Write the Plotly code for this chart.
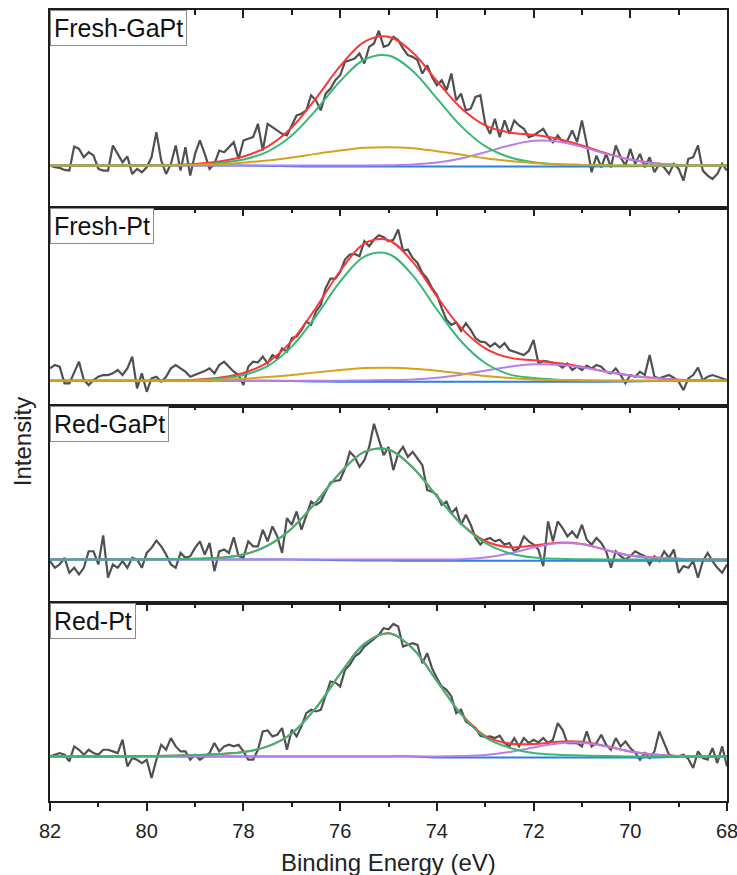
import numpy as np
import plotly.graph_objects as go

# ---------------- data ----------------
ENERGY_RANGE = [82, 68]
PANEL_LABELS = ["Fresh-GaPt", "Fresh-Pt", "Red-GaPt", "Red-Pt"]
X_TITLE = "Binding Energy (eV)"
Y_TITLE = "Intensity"

# raw spectra (counts, arbitrary units, baseline = 0), 82 eV -> 68 eV in 0.1 eV steps
DATA_FRESH_GAPT = [0, -5, -7, -13, -15, 57, 50, 25, 40, 30, -10, -15, -15, 60, 35, 10, 27, -25, -10, -20,
                   -5, 25, 100, 15, -25, 5, 60, -15, 55, -30, 35, 75, 35, -10, 5, 45, 40, 55, 70, 20,
                   75, 80, 85, 125, 45, 125, 115, 105, 95, 90, 120, 150, 155, 165, 210, 195, 165, 215, 230, 255,
                   270, 310, 315, 320, 335, 305, 355, 365, 403, 355, 360, 385, 375, 350, 330, 325, 315, 275, 300, 265,
                   240, 255, 225, 275, 195, 215, 165, 170, 205, 210, 125, 95, 140, 85, 135, 95, 135, 120, 110, 85,
                   90, 100, 110, 85, 70, 90, 70, 75, 105, 70, 135, 65, -20, 30, -5, 35, -5, 60, 25, 0,
                   50, 5, 35, -5, 25, -20, 5, -5, -25, 5, -10, -45, 20, 25, 60, -15, -30, -40, -25, 5, -15]
DATA_FRESH_PT = [37, 47, 42, -8, -8, 22, 57, 2, -13, 2, 12, 17, 17, 22, 32, 17, 37, 72, -23, 22,
                 -33, 7, 12, -3, 12, 37, 47, 37, 27, 12, 17, 22, 29, 37, 22, 47, 57, 42, 27, 17,
                 -13, 42, 57, 55, 72, 52, 77, 67, 97, 87, 127, 132, 152, 177, 167, 207, 227, 277, 305, 305,
                 325, 362, 377, 379, 372, 417, 402, 422, 435, 429, 417, 421, 452, 389, 392, 367, 352, 322, 305, 277,
                 257, 217, 182, 167, 175, 149, 172, 152, 127, 117, 115, 102, 112, 99, 112, 92, 87, 81, 77, 89,
                 122, 52, 59, 57, 52, 49, 39, 51, 32, 42, 32, 45, 37, 47, 42, 27, 22, 37, 17, -8,
                 17, 12, 27, 17, 77, 12, 7, 12, 17, 9, -3, -28, 7, 17, 39, 2, 12, 17, 12, 7, 2]
DATA_RED_GAPT = [-5, -25, -15, 5, -40, -25, -45, -25, 25, 25, -15, 73, -55, -15, -25, -5, -25, 5, 0, -25,
                 20, 35, 57, 40, 15, -15, -25, 20, 5, 10, 35, 55, 15, 50, -35, 25, 30, 20, 67, 10,
                 5, 55, 40, 40, 90, 55, 100, 70, 20, 125, 105, 145, 90, 130, 175, 165, 175, 205, 233, 237,
                 240, 275, 325, 310, 280, 300, 340, 410, 365, 315, 340, 270, 320, 340, 310, 325, 305, 285, 210, 205,
                 195, 165, 175, 140, 155, 105, 135, 105, 65, 45, 60, 65, 55, 60, 45, 50, 25, 35, 70, 55,
                 45, 30, -20, 115, 55, 115, 95, 70, 85, 65, 105, 60, 45, 65, 50, 25, -25, 25, 10, 0,
                 10, 25, 17, 10, -15, 10, -5, 25, 5, 30, -40, -20, -25, -5, -55, -5, 20, -5, -25, -40, -15]
DATA_RED_PT = [0, 5, 10, 5, -15, 30, 20, 5, 20, 10, 5, 20, 20, 15, 10, 50, -30, -5, -10, -20,
               -10, -65, -10, 35, 20, 55, 30, 15, 15, -10, 5, -10, 0, 10, 40, 15, 30, 35, 30, 35,
               15, -10, -10, 20, 75, 78, 60, 65, 85, 20, 80, 60, 90, 130, 140, 135, 140, 180, 225, 222,
               210, 260, 275, 300, 310, 330, 342, 355, 365, 385, 382, 398, 390, 330, 335, 340, 335, 280, 310, 265,
               235, 210, 200, 180, 130, 140, 105, 95, 85, 62, 58, 60, 55, 62, 40, 30, 55, 30, 55, 40,
               50, 42, 55, 40, 50, 100, 80, 40, 40, 40, 30, 75, 30, 40, 65, 35, 20, 55, 30, 45,
               25, 12, -10, 10, -5, 15, 75, 40, 5, 0, 0, 5, -8, -35, 15, -5, -10, 25, -20, 30, -30]

# fitted components sampled every 0.5 eV (82 -> 68)
FIT_ENERGY = [82, 81.5, 81, 80.5, 80, 79.5, 79, 78.5, 78, 77.5, 77, 76.5, 76, 75.5, 75,
              74.5, 74, 73.5, 73, 72.5, 72, 71.5, 71, 70.5, 70, 69.5, 69, 68.5, 68]

GREEN_FRESH_GAPT = [0, 0, 0, 0, 1, 1, 3, 8, 18, 42, 90, 166, 252, 317, 329, 283, 201, 118, 58, 25, 10, 4, 2, 1, 0, 0, 0, 0, 0]
ORANGE_FRESH_GAPT = [0, 0, 0, 0, 0, 1, 2, 4, 9, 15, 24, 35, 45, 53, 55, 52, 43, 33, 22, 14, 8, 4, 2, 1, 0, 0, 0, 0, 0]
PURPLE_FRESH_GAPT = [0, 0, 0, 0, 0, 0, 0, 0, 0, 0, 0, 0, 0, 0, 1, 3, 9, 21, 40, 60, 74, 72, 56, 35, 18, 7, 2, 1, 0]
BLUE_FRESH_GAPT = [0, 0, 0, 0, 0, 0, 0, 0, 0, -1, -2, -3, -3, -3, -3, -3, -3, -3, -3, -3, -3, -3, -3, -2, -2, -1, -1, 0, 0]

GREEN_FRESH_PT = [0, 0, 0, 0, 0, 1, 2, 6, 17, 44, 102, 193, 296, 371, 379, 315, 213, 118, 53, 19, 8, 3, 1, 0, 0, 0, 0, 0, 0]
ORANGE_FRESH_PT = [0, 0, 0, 0, 0, 0, 1, 3, 6, 11, 17, 25, 32, 38, 39, 36, 30, 22, 14, 8, 4, 2, 1, 0, 0, 0, 0, 0, 0]
PURPLE_FRESH_PT = [0, 0, 0, 0, 0, 0, 0, 0, 0, 0, 0, 0, 0, 1, 2, 4, 9, 18, 30, 42, 49, 48, 40, 27, 16, 8, 3, 1, 0]
BLUE_FRESH_PT = [0, 0, 0, 0, 0, 0, 0, 0, 0, 0, -1, -2, -3, -3, -3, -3, -3, -3, -3, -3, -3, -3, -3, -3, -2, -1, -1, 0, 0]

GREEN_RED_GAPT = [0, 0, 0, 0, 0, 1, 2, 5, 15, 42, 94, 173, 262, 325, 332, 278, 191, 108, 50, 19, 6, 2, 1, 0, 0, 0, 0, 0, 0]
ORANGE_RED_GAPT = [0] * 29
PURPLE_RED_GAPT = [0, 0, 0, 0, 0, 0, 0, 0, 0, 0, 0, 0, 0, 0, 0, 0, 0, 1, 6, 18, 36, 49, 46, 29, 12, 6, 2, 0, 0]
BLUE_RED_GAPT = [0, 0, 0, 0, 0, 0, 0, 0, 0, 0, 0, -1, -2, -3, -3, -4, -4, -4, -4, -4, -4, -4, -4, -4, -4, -4, -4, -4, -4]

GREEN_RED_PT = [0, 0, 0, 0, 1, 2, 4, 7, 13, 30, 69, 146, 248, 338, 370, 324, 227, 127, 57, 26, 10, 5, 3, 1, 0, 0, 0, 0, 0]
ORANGE_RED_PT = [0] * 29
PURPLE_RED_PT = [0, 0, 0, 0, 0, 0, 0, 0, 0, 0, 0, 0, 0, 0, 0, 0, 0, 1, 4, 13, 27, 39, 41, 30, 15, 6, 1, 0, 0]
BLUE_RED_PT = [0, 0, 0, 0, 0, 0, 0, 0, 0, 0, 0, 0, 0, 0, 0, 0, -3, -3, -3, -3, -3, -3, -3, -3, -3, -3, -1, 0, 0]

Y_RANGES = [[-126, 465], [-74, 517], [-132, 465], [-134, 460]]

PANELS = [
    (DATA_FRESH_GAPT, GREEN_FRESH_GAPT, ORANGE_FRESH_GAPT, PURPLE_FRESH_GAPT, BLUE_FRESH_GAPT, True),
    (DATA_FRESH_PT, GREEN_FRESH_PT, ORANGE_FRESH_PT, PURPLE_FRESH_PT, BLUE_FRESH_PT, True),
    (DATA_RED_GAPT, GREEN_RED_GAPT, ORANGE_RED_GAPT, PURPLE_RED_GAPT, BLUE_RED_GAPT, False),
    (DATA_RED_PT, GREEN_RED_PT, ORANGE_RED_PT, PURPLE_RED_PT, BLUE_RED_PT, False),
]

# ---------------- styles ----------------
C_DATA = "#505050"
C_RED = "#ff3535"
C_GREEN = "#37b876"
C_ORANGE = "#d6a21a"
C_PURPLE = "#b57ff0"
C_BLUE = "#2d7fe0"
AX_COLOR = "#1e1e1e"
FONT = "Liberation Sans, Arial, sans-serif"

FIG_H = 875
PLOT_TOP, PLOT_BOTTOM = 10, 801

fig = go.Figure()
domains = [[0.75, 1.0], [0.5, 0.75], [0.25, 0.5], [0.0, 0.25]]

for i, (data, green, orange, purple, blue, has_orange) in enumerate(PANELS, start=1):
    xa, ya = f"x{i}", f"y{i}"
    e_data = np.linspace(ENERGY_RANGE[0], ENERGY_RANGE[1], len(data))
    g = np.array(green, float)
    o = np.array(orange, float)
    p = np.array(purple, float)
    envelope = g + o + p
    common = dict(xaxis=xa, yaxis=ya, showlegend=False, hoverinfo="skip", mode="lines")
    fig.add_trace(go.Scatter(x=e_data, y=data, line=dict(color=C_DATA, width=2.2), **common))
    fig.add_trace(go.Scatter(x=FIT_ENERGY, y=envelope, line=dict(color=C_RED, width=2, shape="spline"), **common))
    fig.add_trace(go.Scatter(x=FIT_ENERGY, y=blue, line=dict(color=C_BLUE, width=2, shape="spline"), **common))
    fig.add_trace(go.Scatter(x=FIT_ENERGY, y=purple, line=dict(color=C_PURPLE, width=2, shape="spline"), **common))
    fig.add_trace(go.Scatter(x=FIT_ENERGY, y=green, line=dict(color=C_GREEN, width=2, shape="spline"), **common))
    if has_orange:
        fig.add_trace(go.Scatter(x=FIT_ENERGY, y=orange, line=dict(color=C_ORANGE, width=2, shape="spline"), **common))

    fig.update_layout(**{
        f"xaxis{i}": dict(domain=[0, 1], anchor=ya, range=ENERGY_RANGE, side="top", automargin=False,
                          showline=True, linecolor=AX_COLOR, linewidth=1.6, mirror=True,
                          ticks="inside", ticklen=8, tickwidth=1.5, tickcolor=AX_COLOR,
                          tick0=0, dtick=2, showticklabels=False, showgrid=False, zeroline=False,
                          minor=dict(dtick=1, ticks="inside", ticklen=5, tickwidth=1.5,
                                     tickcolor=AX_COLOR, showgrid=False)),
        f"yaxis{i}": dict(domain=domains[i - 1], anchor=xa, range=Y_RANGES[i - 1], automargin=False,
                          showline=True, linecolor=AX_COLOR, linewidth=1.6, mirror=True,
                          ticks="", showticklabels=False, showgrid=False, zeroline=False),
    })
    fig.add_annotation(text=PANEL_LABELS[i - 1], xref="paper", yref="paper", x=0, y=domains[i - 1][1],
                       xanchor="left", yanchor="top", showarrow=False,
                       font=dict(family=FONT, size=25, color="#111"),
                       bgcolor="white", bordercolor="#8c8c8c", borderwidth=1, borderpad=3)

# bottom labelled axis of the last panel
fig.add_trace(go.Scatter(x=ENERGY_RANGE, y=[None, None], xaxis="x5", yaxis="y4",
                         showlegend=False, hoverinfo="skip", mode="lines"))
fig.update_layout(xaxis5=dict(overlaying="x4", anchor="y4", side="bottom", range=ENERGY_RANGE,
                              automargin=False, ticklabeloverflow="allow",
                              showline=False, ticks="outside", ticklen=9, tickwidth=1.5, tickcolor=AX_COLOR,
                              tick0=0, dtick=2, showgrid=False, zeroline=False,
                              tickfont=dict(family=FONT, size=20, color="#222"), ticklabelstandoff=3,
                              minor=dict(dtick=1, ticks="outside", ticklen=5, tickwidth=1.5,
                                         tickcolor=AX_COLOR, showgrid=False)))

plot_h = PLOT_BOTTOM - PLOT_TOP
fig.add_annotation(text=X_TITLE, xref="paper", yref="paper", x=0.5, y=(PLOT_BOTTOM - 862) / plot_h,
                   xanchor="center", yanchor="middle", showarrow=False,
                   font=dict(family=FONT, size=24, color="#222"))
fig.add_annotation(text=Y_TITLE, xref="paper", yref="paper", x=-0.041, y=(PLOT_BOTTOM - 442) / plot_h,
                   xanchor="center", yanchor="middle", textangle=-90, showarrow=False,
                   font=dict(family=FONT, size=24, color="#222"))

fig.update_layout(width=737, height=FIG_H,
                  margin=dict(l=50, r=10, t=PLOT_TOP, b=FIG_H - PLOT_BOTTOM, autoexpand=False),
                  paper_bgcolor="white", plot_bgcolor="white", showlegend=False)

fig.write_html("out.html")
